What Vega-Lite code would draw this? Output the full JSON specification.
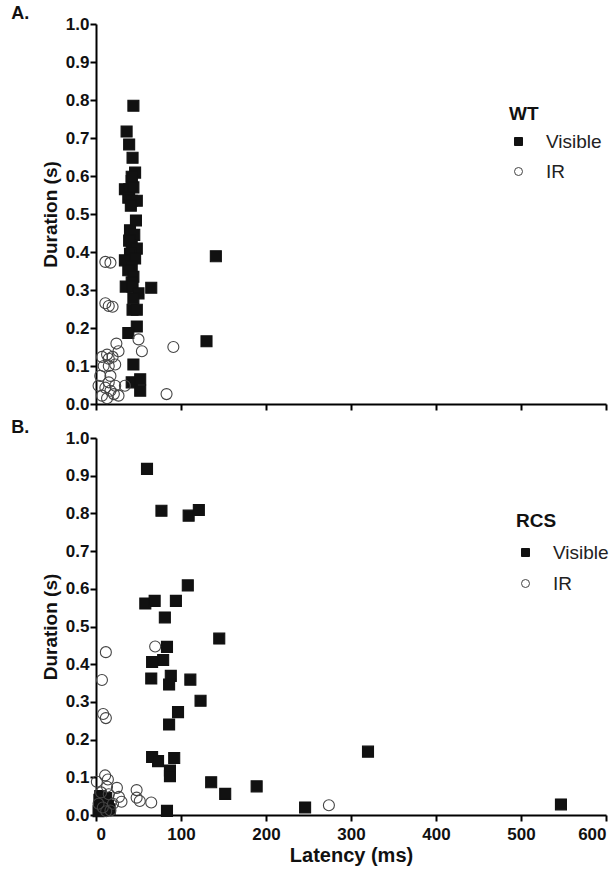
{
  "$schema": "https://vega.github.io/schema/vega-lite/v6.json",
  "background": "white",
  "padding": {"left": 11, "top": 5, "right": 2, "bottom": 6},
  "config": {
    "font": "Liberation Sans",
    "view": {"stroke": null},
    "axis": {"domainColor": "black", "domainWidth": 2, "tickColor": "black", "tickWidth": 2, "tickSize": 6, "grid": false, "labelFont": "Liberation Sans", "labelFontWeight": "bold", "labelFontSize": 17, "labelColor": "#111", "labelPadding": 1, "titleFont": "Liberation Sans", "titleFontWeight": "bold", "titleFontSize": 19, "titleColor": "#111"},
    "legend": {"titleFont": "Liberation Sans", "titleFontSize": 19, "titleFontWeight": "bold", "titleColor": "#111", "labelFont": "Liberation Sans", "labelFontSize": 19, "labelColor": "#222", "symbolSize": 64, "rowPadding": 10, "titlePadding": 8, "labelOffset": 18, "symbolStrokeWidth": 1}
  },
  "datasets": {
    "pts": [
      {"panel": "A", "type": "Visible", "latency": 44, "duration": 0.785},
      {"panel": "A", "type": "Visible", "latency": 36, "duration": 0.717},
      {"panel": "A", "type": "Visible", "latency": 39, "duration": 0.683},
      {"panel": "A", "type": "Visible", "latency": 43, "duration": 0.648},
      {"panel": "A", "type": "Visible", "latency": 46, "duration": 0.609},
      {"panel": "A", "type": "Visible", "latency": 42, "duration": 0.598},
      {"panel": "A", "type": "Visible", "latency": 42, "duration": 0.587},
      {"panel": "A", "type": "Visible", "latency": 34, "duration": 0.565},
      {"panel": "A", "type": "Visible", "latency": 39, "duration": 0.565},
      {"panel": "A", "type": "Visible", "latency": 44, "duration": 0.57},
      {"panel": "A", "type": "Visible", "latency": 38, "duration": 0.543},
      {"panel": "A", "type": "Visible", "latency": 42, "duration": 0.535},
      {"panel": "A", "type": "Visible", "latency": 48, "duration": 0.535},
      {"panel": "A", "type": "Visible", "latency": 41, "duration": 0.522},
      {"panel": "A", "type": "Visible", "latency": 47, "duration": 0.483},
      {"panel": "A", "type": "Visible", "latency": 40, "duration": 0.457},
      {"panel": "A", "type": "Visible", "latency": 45, "duration": 0.445},
      {"panel": "A", "type": "Visible", "latency": 39, "duration": 0.43},
      {"panel": "A", "type": "Visible", "latency": 42, "duration": 0.413},
      {"panel": "A", "type": "Visible", "latency": 48, "duration": 0.409},
      {"panel": "A", "type": "Visible", "latency": 40, "duration": 0.395},
      {"panel": "A", "type": "Visible", "latency": 34, "duration": 0.378},
      {"panel": "A", "type": "Visible", "latency": 46, "duration": 0.383},
      {"panel": "A", "type": "Visible", "latency": 42, "duration": 0.361},
      {"panel": "A", "type": "Visible", "latency": 38, "duration": 0.352},
      {"panel": "A", "type": "Visible", "latency": 44, "duration": 0.335},
      {"panel": "A", "type": "Visible", "latency": 42, "duration": 0.32},
      {"panel": "A", "type": "Visible", "latency": 35, "duration": 0.309},
      {"panel": "A", "type": "Visible", "latency": 43, "duration": 0.309},
      {"panel": "A", "type": "Visible", "latency": 50, "duration": 0.291},
      {"panel": "A", "type": "Visible", "latency": 44, "duration": 0.278},
      {"panel": "A", "type": "Visible", "latency": 43, "duration": 0.248},
      {"panel": "A", "type": "Visible", "latency": 48, "duration": 0.248},
      {"panel": "A", "type": "Visible", "latency": 48, "duration": 0.204},
      {"panel": "A", "type": "Visible", "latency": 38, "duration": 0.187},
      {"panel": "A", "type": "Visible", "latency": 44, "duration": 0.104},
      {"panel": "A", "type": "Visible", "latency": 42, "duration": 0.057},
      {"panel": "A", "type": "Visible", "latency": 52, "duration": 0.065},
      {"panel": "A", "type": "Visible", "latency": 52, "duration": 0.035},
      {"panel": "A", "type": "Visible", "latency": 65, "duration": 0.306},
      {"panel": "A", "type": "Visible", "latency": 141, "duration": 0.389},
      {"panel": "A", "type": "Visible", "latency": 130, "duration": 0.165},
      {"panel": "A", "type": "IR", "latency": 11, "duration": 0.374},
      {"panel": "A", "type": "IR", "latency": 17, "duration": 0.372},
      {"panel": "A", "type": "IR", "latency": 11, "duration": 0.265},
      {"panel": "A", "type": "IR", "latency": 15, "duration": 0.258},
      {"panel": "A", "type": "IR", "latency": 19.5, "duration": 0.256},
      {"panel": "A", "type": "IR", "latency": 24, "duration": 0.159},
      {"panel": "A", "type": "IR", "latency": 26.5, "duration": 0.139},
      {"panel": "A", "type": "IR", "latency": 7, "duration": 0.124},
      {"panel": "A", "type": "IR", "latency": 15, "duration": 0.119},
      {"panel": "A", "type": "IR", "latency": 19.5, "duration": 0.124},
      {"panel": "A", "type": "IR", "latency": 13, "duration": 0.13},
      {"panel": "A", "type": "IR", "latency": 9, "duration": 0.1},
      {"panel": "A", "type": "IR", "latency": 15, "duration": 0.1},
      {"panel": "A", "type": "IR", "latency": 22.6, "duration": 0.104},
      {"panel": "A", "type": "IR", "latency": 5, "duration": 0.074},
      {"panel": "A", "type": "IR", "latency": 17, "duration": 0.074},
      {"panel": "A", "type": "IR", "latency": 15, "duration": 0.057},
      {"panel": "A", "type": "IR", "latency": 3, "duration": 0.048},
      {"panel": "A", "type": "IR", "latency": 22.6, "duration": 0.048},
      {"panel": "A", "type": "IR", "latency": 11, "duration": 0.043},
      {"panel": "A", "type": "IR", "latency": 17, "duration": 0.035},
      {"panel": "A", "type": "IR", "latency": 21, "duration": 0.026},
      {"panel": "A", "type": "IR", "latency": 26.5, "duration": 0.022},
      {"panel": "A", "type": "IR", "latency": 7, "duration": 0.022},
      {"panel": "A", "type": "IR", "latency": 13, "duration": 0.015},
      {"panel": "A", "type": "IR", "latency": 34, "duration": 0.048},
      {"panel": "A", "type": "IR", "latency": 50, "duration": 0.17},
      {"panel": "A", "type": "IR", "latency": 54, "duration": 0.139},
      {"panel": "A", "type": "IR", "latency": 91, "duration": 0.15},
      {"panel": "A", "type": "IR", "latency": 83, "duration": 0.026},
      {"panel": "B", "type": "Visible", "latency": 60, "duration": 0.918},
      {"panel": "B", "type": "Visible", "latency": 77, "duration": 0.807},
      {"panel": "B", "type": "Visible", "latency": 109, "duration": 0.794},
      {"panel": "B", "type": "Visible", "latency": 121, "duration": 0.809},
      {"panel": "B", "type": "Visible", "latency": 108, "duration": 0.609},
      {"panel": "B", "type": "Visible", "latency": 58, "duration": 0.561},
      {"panel": "B", "type": "Visible", "latency": 69, "duration": 0.568},
      {"panel": "B", "type": "Visible", "latency": 94, "duration": 0.568},
      {"panel": "B", "type": "Visible", "latency": 81, "duration": 0.524},
      {"panel": "B", "type": "Visible", "latency": 145, "duration": 0.468},
      {"panel": "B", "type": "Visible", "latency": 83.5, "duration": 0.446},
      {"panel": "B", "type": "Visible", "latency": 66, "duration": 0.406},
      {"panel": "B", "type": "Visible", "latency": 79, "duration": 0.411},
      {"panel": "B", "type": "Visible", "latency": 65, "duration": 0.362},
      {"panel": "B", "type": "Visible", "latency": 88, "duration": 0.369},
      {"panel": "B", "type": "Visible", "latency": 86, "duration": 0.346},
      {"panel": "B", "type": "Visible", "latency": 111, "duration": 0.359},
      {"panel": "B", "type": "Visible", "latency": 123, "duration": 0.303},
      {"panel": "B", "type": "Visible", "latency": 96.5, "duration": 0.273},
      {"panel": "B", "type": "Visible", "latency": 86, "duration": 0.24},
      {"panel": "B", "type": "Visible", "latency": 66, "duration": 0.154},
      {"panel": "B", "type": "Visible", "latency": 73, "duration": 0.143},
      {"panel": "B", "type": "Visible", "latency": 92, "duration": 0.151},
      {"panel": "B", "type": "Visible", "latency": 87, "duration": 0.118},
      {"panel": "B", "type": "Visible", "latency": 87, "duration": 0.103},
      {"panel": "B", "type": "Visible", "latency": 135.5, "duration": 0.087},
      {"panel": "B", "type": "Visible", "latency": 152, "duration": 0.056},
      {"panel": "B", "type": "Visible", "latency": 189, "duration": 0.076},
      {"panel": "B", "type": "Visible", "latency": 83.5, "duration": 0.011},
      {"panel": "B", "type": "Visible", "latency": 246, "duration": 0.02},
      {"panel": "B", "type": "Visible", "latency": 320, "duration": 0.168},
      {"panel": "B", "type": "Visible", "latency": 547, "duration": 0.028},
      {"panel": "B", "type": "Visible", "latency": 4, "duration": 0.04},
      {"panel": "B", "type": "Visible", "latency": 6, "duration": 0.025},
      {"panel": "B", "type": "Visible", "latency": 10, "duration": 0.035},
      {"panel": "B", "type": "Visible", "latency": 14, "duration": 0.025},
      {"panel": "B", "type": "Visible", "latency": 8, "duration": 0.015},
      {"panel": "B", "type": "Visible", "latency": 3, "duration": 0.01},
      {"panel": "B", "type": "Visible", "latency": 12, "duration": 0.045},
      {"panel": "B", "type": "Visible", "latency": 16, "duration": 0.015},
      {"panel": "B", "type": "Visible", "latency": 5, "duration": 0.05},
      {"panel": "B", "type": "IR", "latency": 11.6, "duration": 0.432},
      {"panel": "B", "type": "IR", "latency": 7, "duration": 0.358},
      {"panel": "B", "type": "IR", "latency": 8.4, "duration": 0.268},
      {"panel": "B", "type": "IR", "latency": 11.6, "duration": 0.257},
      {"panel": "B", "type": "IR", "latency": 69.6, "duration": 0.447},
      {"panel": "B", "type": "IR", "latency": 10.7, "duration": 0.105},
      {"panel": "B", "type": "IR", "latency": 1, "duration": 0.088},
      {"panel": "B", "type": "IR", "latency": 14, "duration": 0.094},
      {"panel": "B", "type": "IR", "latency": 13, "duration": 0.075},
      {"panel": "B", "type": "IR", "latency": 24.6, "duration": 0.072},
      {"panel": "B", "type": "IR", "latency": 27, "duration": 0.048},
      {"panel": "B", "type": "IR", "latency": 30, "duration": 0.035},
      {"panel": "B", "type": "IR", "latency": 47.8, "duration": 0.066},
      {"panel": "B", "type": "IR", "latency": 47.8, "duration": 0.046},
      {"panel": "B", "type": "IR", "latency": 51.5, "duration": 0.037},
      {"panel": "B", "type": "IR", "latency": 65, "duration": 0.033},
      {"panel": "B", "type": "IR", "latency": 274, "duration": 0.026},
      {"panel": "B", "type": "IR", "latency": 3, "duration": 0.03},
      {"panel": "B", "type": "IR", "latency": 8, "duration": 0.02},
      {"panel": "B", "type": "IR", "latency": 12, "duration": 0.01},
      {"panel": "B", "type": "IR", "latency": 17, "duration": 0.012},
      {"panel": "B", "type": "IR", "latency": 20, "duration": 0.03},
      {"panel": "B", "type": "IR", "latency": 6, "duration": 0.06},
      {"panel": "B", "type": "IR", "latency": 15, "duration": 0.055}
    ]
  },
  "spacing": 7,
  "resolve": {
    "scale": {"shape": "independent", "fill": "independent", "stroke": "independent"},
    "legend": {"shape": "independent", "fill": "independent", "stroke": "independent"}
  },
  "vconcat": [
    {
      "title": {"text": "A.", "anchor": "start", "frame": "bounds", "fontSize": 18, "fontWeight": "bold", "color": "#111", "font": "Liberation Sans", "offset": -8, "dx": -30},
      "width": 510,
      "height": 380,
      "data": {"name": "pts"},
      "transform": [{"filter": "datum.panel === 'A'"}],
      "mark": {"type": "point", "size": 121, "strokeWidth": 1.1, "opacity": 1},
      "encoding": {
        "x": {"field": "latency", "type": "quantitative", "scale": {"domain": [0, 600], "nice": false}, "axis": {"values": [0, 100, 200, 300, 400, 500, 600], "labels": false, "title": null}},
        "y": {"field": "duration", "type": "quantitative", "scale": {"domain": [0, 1], "nice": false}, "axis": {"values": [0, 0.1, 0.2, 0.3, 0.4, 0.5, 0.6, 0.7, 0.8, 0.9, 1.0], "format": ".1f", "title": "Duration  (s)", "titlePadding": 5}},
        "shape": {"field": "type", "type": "nominal", "scale": {"domain": ["Visible", "IR"], "range": ["square", "circle"]}, "legend": {"title": "WT", "orient": "none", "legendX": 413, "legendY": 81}},
        "fill": {"field": "type", "type": "nominal", "scale": {"domain": ["Visible", "IR"], "range": ["#111111", "transparent"]}, "legend": {"title": "WT", "orient": "none", "legendX": 413, "legendY": 81}},
        "stroke": {"field": "type", "type": "nominal", "scale": {"domain": ["Visible", "IR"], "range": ["#111111", "#444444"]}, "legend": {"title": "WT", "orient": "none", "legendX": 413, "legendY": 81}}
      }
    },
    {
      "title": {"text": "B.", "anchor": "start", "frame": "bounds", "fontSize": 18, "fontWeight": "bold", "color": "#111", "font": "Liberation Sans", "offset": -8, "dx": -30},
      "width": 510,
      "height": 377,
      "data": {"name": "pts"},
      "transform": [{"filter": "datum.panel === 'B'"}],
      "mark": {"type": "point", "size": 121, "strokeWidth": 1.1, "opacity": 1},
      "encoding": {
        "x": {"field": "latency", "type": "quantitative", "scale": {"domain": [0, 600], "nice": false}, "axis": {"values": [0, 100, 200, 300, 400, 500, 600], "title": "Latency (ms)", "labelPadding": 5, "titlePadding": 3, "titleFontSize": 20}},
        "y": {"field": "duration", "type": "quantitative", "scale": {"domain": [0, 1], "nice": false}, "axis": {"values": [0, 0.1, 0.2, 0.3, 0.4, 0.5, 0.6, 0.7, 0.8, 0.9, 1.0], "format": ".1f", "title": "Duration (s)", "titlePadding": 5}},
        "shape": {"field": "type", "type": "nominal", "scale": {"domain": ["Visible", "IR"], "range": ["square", "circle"]}, "legend": {"title": "RCS", "orient": "none", "legendX": 420, "legendY": 74, "titlePadding": 12, "rowPadding": 11}},
        "fill": {"field": "type", "type": "nominal", "scale": {"domain": ["Visible", "IR"], "range": ["#111111", "transparent"]}, "legend": {"title": "RCS", "orient": "none", "legendX": 420, "legendY": 74, "titlePadding": 12, "rowPadding": 11}},
        "stroke": {"field": "type", "type": "nominal", "scale": {"domain": ["Visible", "IR"], "range": ["#111111", "#444444"]}, "legend": {"title": "RCS", "orient": "none", "legendX": 420, "legendY": 74, "titlePadding": 12, "rowPadding": 11}}
      }
    }
  ]
}
